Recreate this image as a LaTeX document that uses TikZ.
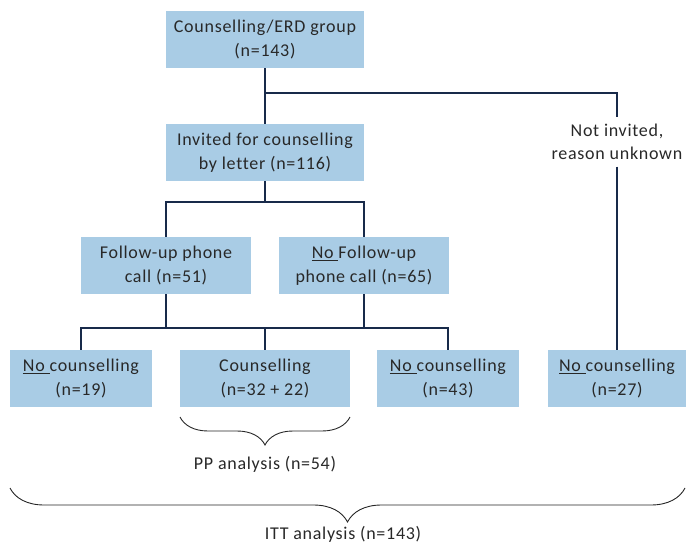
\documentclass[tikz,border=0pt]{standalone}
\usepackage{fontspec}
\setmainfont[LetterSpace=4, Ligatures={NoCommon}]{Carlito}
\usetikzlibrary{decorations.pathreplacing}
\definecolor{boxblue}{RGB}{169,204,229}
\definecolor{linenavy}{RGB}{24,42,74}
\definecolor{txtgray}{RGB}{40,40,40}
\tikzset{
  flowbox/.style={fill=boxblue, draw=none, inner sep=0pt, minimum height=57pt,
    align=center, text=txtgray, font=\fontsize{18}{23.5}\selectfont},
  plaintext/.style={inner sep=0pt, align=center, text=txtgray,
    font=\fontsize{18}{23.5}\selectfont},
  flowline/.style={draw=linenavy, line width=1.7pt},
  bracepath/.style={draw=black!85, line width=0.9pt,
    decorate, decoration={brace, mirror}},
}
\begin{document}
\begin{tikzpicture}[x=1pt, y=-1pt]
\useasboundingbox (0,0) rectangle (686,543);

% boxes
\node[flowbox, minimum width=198pt] (grp) at (265,39.5) {Counselling/ERD group\\(n=143)};
\node[flowbox, minimum width=198pt] (inv) at (265,152.5) {Invited for counselling\\by letter (n=116)};
\node[flowbox, minimum width=170pt] (fup) at (166,265.5) {Follow-up phone\\call (n=51)};
\node[flowbox, minimum width=170pt] (nfup) at (364,265.5) {\underline{No\ }Follow-up\\phone call (n=65)};
\node[flowbox, minimum width=142pt] (nc1) at (81,378.5) {\underline{No\ }counselling\\(n=19)};
\node[flowbox, minimum width=170pt] (cns) at (265,378.5) {Counselling\\(n=32 + 22)};
\node[flowbox, minimum width=142pt] (nc2) at (448,378.5) {\underline{No\ }counselling\\(n=43)};
\node[flowbox, minimum width=138pt] (nc3) at (617,378.5) {\underline{No\ }counselling\\(n=27)};
\node[plaintext, minimum height=49pt] (notinv) at (617,142) {Not invited,\\reason unknown};

% junction points
\coordinate (j0) at (265,93);
\coordinate (j1) at (265,202);
\coordinate (j2) at (265,328);

% connectors
\draw[flowline] (grp.south) -- (inv.north);
\draw[flowline] (j0) -| (notinv.north);
\draw[flowline] (notinv.south) -- (nc3.north);
\draw[flowline] (inv.south) -- (j1);
\draw[flowline] (fup.north) |- (j1) -| (nfup.north);
\draw[flowline] (fup.south) -- (fup.south |- j2);
\draw[flowline] (nfup.south) -- (nfup.south |- j2);
\draw[flowline] (nc1.north) |- (j2) -| (nc2.north);
\draw[flowline] (cns.north) -- (j2);

% analysis braces
\coordinate (ppL) at (180,417);
\coordinate (ppR) at (350,417);
\draw[bracepath, decoration={amplitude=28pt}] (ppL) -- (ppR);
\node[plaintext] (pp) at (265,464) {PP analysis (n=54)};
\coordinate (ittL) at (10,488);
\coordinate (ittR) at (685,488);
\draw[bracepath, decoration={amplitude=34pt}] (ittL) -- (ittR);
\node[plaintext] (itt) at (343,534) {ITT analysis (n=143)};
\end{tikzpicture}
\end{document}
